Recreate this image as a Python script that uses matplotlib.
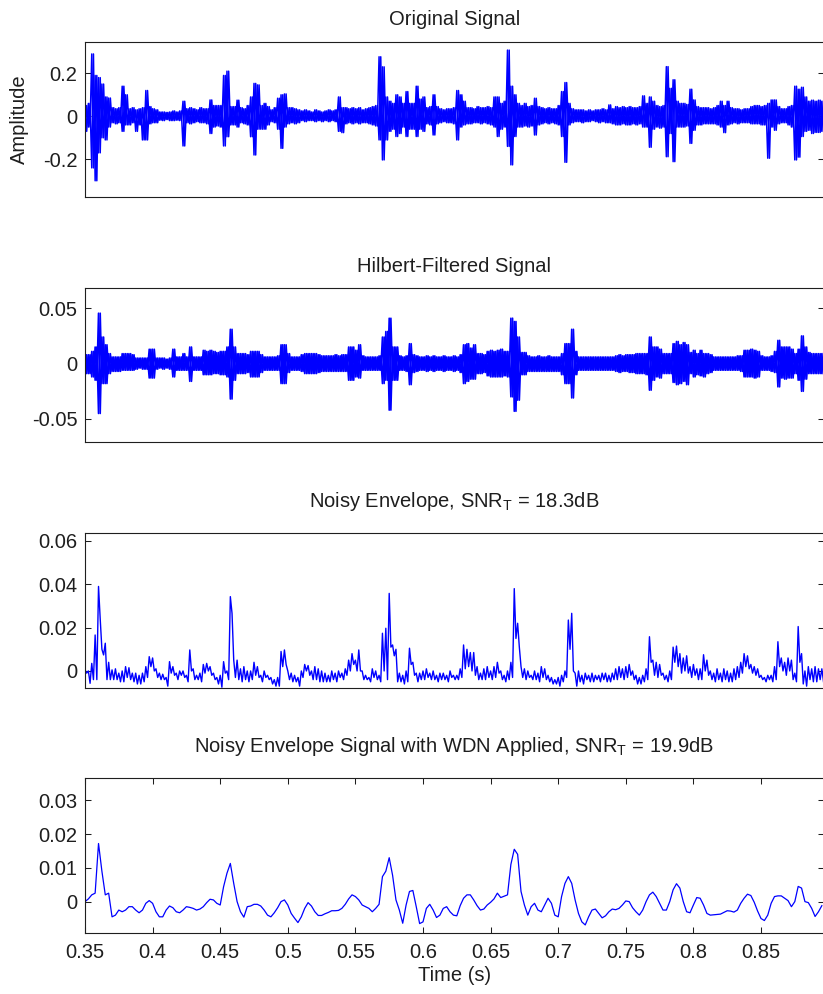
import numpy as np
import matplotlib
matplotlib.use("Agg")
import matplotlib.pyplot as plt

# time grid of the traces
t_start = 0.35
dt = 0.0025

# original signal: positive / negative peak in each time step
orig_hi = [
    0.05, 0.06, 0.29, 0.19, 0.18, 0.15, 0.09, 0.085, 0.04, 0.035,
    0.04, 0.14, 0.10, 0.035, 0.04, 0.03, 0.035, 0.04, 0.12, 0.045,
    0.035, 0.03, 0.02, 0.02, 0.018, 0.02, 0.025, 0.02, 0.025, 0.07,
    0.035, 0.04, 0.035, 0.03, 0.04, 0.035, 0.035, 0.076, 0.05, 0.05,
    0.05, 0.19, 0.21, 0.045, 0.045, 0.075, 0.04, 0.035, 0.05, 0.09,
    0.153, 0.146, 0.05, 0.06, 0.045, 0.03, 0.04, 0.084, 0.10, 0.104,
    0.04, 0.04, 0.035, 0.03, 0.025, 0.03, 0.025, 0.02, 0.03, 0.025,
    0.02, 0.025, 0.03, 0.025, 0.03, 0.09, 0.04, 0.04, 0.035, 0.04,
    0.035, 0.04, 0.03, 0.035, 0.04, 0.045, 0.05, 0.277, 0.23, 0.09,
    0.07, 0.06, 0.10, 0.09, 0.06, 0.115, 0.06, 0.06, 0.14, 0.08,
    0.09, 0.04, 0.045, 0.10, 0.045, 0.035, 0.03, 0.035, 0.035, 0.04,
    0.12, 0.10, 0.07, 0.04, 0.04, 0.035, 0.045, 0.04, 0.04, 0.045,
    0.04, 0.09, 0.09, 0.06, 0.07, 0.308, 0.14, 0.10, 0.06, 0.05,
    0.06, 0.045, 0.05, 0.084, 0.045, 0.04, 0.035, 0.04, 0.035, 0.035,
    0.05, 0.115, 0.157, 0.06, 0.035, 0.03, 0.03, 0.03, 0.025, 0.03,
    0.025, 0.03, 0.03, 0.035, 0.03, 0.053, 0.035, 0.045, 0.04, 0.045,
    0.04, 0.045, 0.04, 0.04, 0.045, 0.095, 0.06, 0.09, 0.07, 0.05,
    0.045, 0.05, 0.231, 0.13, 0.17, 0.07, 0.06, 0.06, 0.055, 0.126,
    0.076, 0.045, 0.04, 0.04, 0.04, 0.035, 0.04, 0.05, 0.07, 0.05,
    0.07, 0.04, 0.035, 0.035, 0.03, 0.035, 0.035, 0.045, 0.05, 0.05,
    0.045, 0.05, 0.06, 0.076, 0.076, 0.045, 0.035, 0.035, 0.045, 0.05,
    0.14, 0.126, 0.135, 0.09, 0.07, 0.075, 0.07, 0.075, 0.07,
]
orig_lo = [
    -0.07, -0.05, -0.24, -0.30, -0.17, -0.10, -0.11, -0.05, -0.03, -0.035,
    -0.03, -0.07, -0.04, -0.04, -0.03, -0.07, -0.04, -0.11, -0.11, -0.035,
    -0.03, -0.03, -0.018, -0.02, -0.015, -0.02, -0.02, -0.018, -0.02, -0.138,
    -0.03, -0.035, -0.03, -0.025, -0.03, -0.03, -0.035, -0.08, -0.05, -0.045,
    -0.05, -0.138, -0.095, -0.04, -0.04, -0.05, -0.03, -0.035, -0.04, -0.095,
    -0.18, -0.06, -0.06, -0.06, -0.04, -0.025, -0.03, -0.06, -0.149, -0.05,
    -0.035, -0.03, -0.035, -0.03, -0.02, -0.025, -0.02, -0.02, -0.025, -0.02,
    -0.025, -0.02, -0.025, -0.02, -0.025, -0.07, -0.076, -0.035, -0.03, -0.035,
    -0.03, -0.035, -0.03, -0.03, -0.035, -0.04, -0.045, -0.11, -0.203, -0.11,
    -0.07, -0.06, -0.094, -0.08, -0.05, -0.094, -0.06, -0.06, -0.094, -0.06,
    -0.07, -0.035, -0.04, -0.087, -0.035, -0.03, -0.025, -0.03, -0.03, -0.035,
    -0.11, -0.05, -0.04, -0.035, -0.035, -0.03, -0.03, -0.035, -0.03, -0.035,
    -0.04, -0.05, -0.094, -0.06, -0.05, -0.14, -0.226, -0.094, -0.05, -0.05,
    -0.045, -0.05, -0.045, -0.087, -0.04, -0.035, -0.03, -0.035, -0.03, -0.035,
    -0.04, -0.094, -0.214, -0.04, -0.03, -0.025, -0.025, -0.03, -0.025, -0.025,
    -0.02, -0.025, -0.03, -0.025, -0.03, -0.03, -0.035, -0.04, -0.04, -0.035,
    -0.04, -0.04, -0.035, -0.04, -0.035, -0.05, -0.05, -0.144, -0.06, -0.05,
    -0.055, -0.05, -0.188, -0.08, -0.211, -0.05, -0.05, -0.05, -0.045, -0.126,
    -0.065, -0.04, -0.04, -0.035, -0.035, -0.035, -0.035, -0.04, -0.05, -0.076,
    -0.04, -0.035, -0.03, -0.035, -0.03, -0.03, -0.03, -0.035, -0.035, -0.035,
    -0.04, -0.04, -0.195, -0.05, -0.065, -0.035, -0.03, -0.03, -0.04, -0.05,
    -0.203, -0.19, -0.094, -0.07, -0.065, -0.08, -0.075, -0.075, -0.07,
]

# hilbert-filtered signal
hilb_hi = [
    0.008, 0.008, 0.011, 0.015, 0.0455, 0.024, 0.017, 0.009, 0.006, 0.006,
    0.006, 0.009, 0.009, 0.009, 0.008, 0.005, 0.005, 0.005, 0.005, 0.013,
    0.013, 0.005, 0.005, 0.005, 0.004, 0.005, 0.013, 0.006, 0.006, 0.009,
    0.006, 0.015, 0.006, 0.006, 0.006, 0.012, 0.011, 0.012, 0.011, 0.010,
    0.011, 0.011, 0.015, 0.031, 0.015, 0.009, 0.009, 0.009, 0.008, 0.011,
    0.011, 0.011, 0.008, 0.006, 0.006, 0.006, 0.006, 0.007, 0.017, 0.017,
    0.009, 0.006, 0.006, 0.006, 0.008, 0.009, 0.009, 0.009, 0.009, 0.008,
    0.007, 0.007, 0.007, 0.007, 0.008, 0.007, 0.008, 0.008, 0.015, 0.015,
    0.012, 0.017, 0.007, 0.006, 0.006, 0.006, 0.006, 0.007, 0.024, 0.029,
    0.041, 0.015, 0.015, 0.007, 0.006, 0.007, 0.018, 0.008, 0.007, 0.006,
    0.006, 0.007, 0.006, 0.007, 0.006, 0.006, 0.007, 0.006, 0.006, 0.007,
    0.006, 0.008, 0.017, 0.018, 0.014, 0.017, 0.009, 0.009, 0.008, 0.011,
    0.012, 0.011, 0.012, 0.013, 0.011, 0.011, 0.041, 0.038, 0.024, 0.010,
    0.010, 0.007, 0.006, 0.006, 0.007, 0.006, 0.006, 0.007, 0.006, 0.006,
    0.006, 0.009, 0.018, 0.018, 0.031, 0.011, 0.006, 0.006, 0.006, 0.006,
    0.006, 0.006, 0.006, 0.006, 0.006, 0.006, 0.006, 0.007, 0.008, 0.007,
    0.008, 0.008, 0.008, 0.009, 0.009, 0.009, 0.009, 0.024, 0.015, 0.015,
    0.013, 0.009, 0.009, 0.009, 0.018, 0.020, 0.017, 0.019, 0.017, 0.010,
    0.012, 0.009, 0.012, 0.009, 0.009, 0.008, 0.006, 0.006, 0.006, 0.006,
    0.006, 0.006, 0.006, 0.007, 0.007, 0.012, 0.012, 0.013, 0.012, 0.011,
    0.007, 0.006, 0.006, 0.007, 0.011, 0.021, 0.015, 0.015, 0.015, 0.013,
    0.009, 0.013, 0.025, 0.015, 0.010, 0.009, 0.009, 0.009, 0.009,
]
hilb_lo = [
    -0.009, -0.009, -0.012, -0.015, -0.045, -0.018, -0.018, -0.009, -0.007, -0.007,
    -0.007, -0.006, -0.006, -0.006, -0.006, -0.005, -0.004, -0.005, -0.005, -0.013,
    -0.013, -0.005, -0.004, -0.005, -0.004, -0.005, -0.012, -0.006, -0.006, -0.006,
    -0.006, -0.016, -0.006, -0.006, -0.006, -0.010, -0.010, -0.010, -0.009, -0.009,
    -0.010, -0.010, -0.012, -0.032, -0.015, -0.009, -0.009, -0.009, -0.008, -0.012,
    -0.012, -0.012, -0.008, -0.006, -0.006, -0.006, -0.006, -0.006, -0.018, -0.018,
    -0.008, -0.006, -0.006, -0.006, -0.007, -0.009, -0.009, -0.009, -0.009, -0.008,
    -0.007, -0.007, -0.007, -0.007, -0.007, -0.007, -0.007, -0.007, -0.015, -0.015,
    -0.012, -0.013, -0.006, -0.006, -0.006, -0.006, -0.006, -0.006, -0.018, -0.015,
    -0.042, -0.015, -0.015, -0.006, -0.006, -0.007, -0.019, -0.008, -0.007, -0.006,
    -0.006, -0.007, -0.006, -0.007, -0.006, -0.006, -0.007, -0.006, -0.006, -0.007,
    -0.006, -0.008, -0.018, -0.016, -0.014, -0.014, -0.009, -0.009, -0.008, -0.011,
    -0.012, -0.012, -0.012, -0.012, -0.011, -0.012, -0.030, -0.043, -0.033, -0.010,
    -0.010, -0.007, -0.007, -0.007, -0.007, -0.007, -0.007, -0.007, -0.007, -0.007,
    -0.007, -0.010, -0.018, -0.018, -0.031, -0.010, -0.006, -0.006, -0.006, -0.006,
    -0.006, -0.006, -0.006, -0.006, -0.006, -0.006, -0.006, -0.007, -0.008, -0.007,
    -0.007, -0.008, -0.008, -0.009, -0.009, -0.009, -0.010, -0.024, -0.015, -0.012,
    -0.013, -0.009, -0.009, -0.009, -0.017, -0.019, -0.018, -0.016, -0.019, -0.009,
    -0.012, -0.010, -0.011, -0.012, -0.009, -0.008, -0.006, -0.006, -0.006, -0.006,
    -0.006, -0.006, -0.006, -0.006, -0.007, -0.012, -0.012, -0.012, -0.013, -0.012,
    -0.006, -0.006, -0.006, -0.007, -0.008, -0.021, -0.013, -0.014, -0.013, -0.013,
    -0.009, -0.015, -0.025, -0.014, -0.009, -0.009, -0.009, -0.009, -0.009,
]

# noisy envelope
env_hi = [
    0.0005, 0.000, 0.0035, 0.0166, 0.039, 0.010, 0.0128, 0.004, 0.0005, 0.001,
    -0.001, 0.000, 0.002, 0.0015, -0.001, -0.001, -0.002, -0.001, 0.002, 0.0066,
    0.006, 0.001, -0.001, -0.0015, -0.003, 0.0043, 0.002, -0.001, 0.000, 0.000,
    -0.002, 0.0097, 0.001, -0.002, -0.001, 0.003, 0.0035, 0.002, -0.001, -0.003,
    -0.002, 0.0043, 0.000, 0.0343, 0.005, 0.005, 0.001, 0.002, 0.000, 0.000,
    0.004, 0.002, -0.002, 0.000, -0.002, -0.003, -0.004, -0.003, 0.009, 0.0097,
    0.000, -0.001, -0.002, -0.003, 0.000, 0.003, 0.0025, 0.000, 0.002, 0.001,
    0.000, -0.001, -0.002, 0.000, -0.001, 0.000, -0.001, 0.001, 0.005, 0.008,
    0.005, 0.0097, 0.000, -0.002, -0.003, 0.001, 0.000, -0.002, 0.0174, 0.0197,
    0.0358, 0.012, 0.010, -0.001, -0.002, 0.000, 0.0105, 0.004, -0.001, -0.001,
    0.000, 0.001, -0.001, 0.000, -0.002, -0.001, -0.001, -0.002, 0.000, -0.002,
    -0.002, 0.001, 0.012, 0.010, 0.0085, 0.0085, 0.002, -0.001, 0.001, 0.002,
    0.000, 0.002, 0.004, 0.000, -0.002, 0.000, 0.004, 0.038, 0.022, 0.002,
    0.001, 0.000, -0.002, 0.000, -0.001, 0.002, 0.001, -0.002, -0.003, -0.004,
    -0.003, -0.002, 0.000, 0.0235, 0.0266, -0.001, 0.000, -0.002, -0.001, -0.002,
    -0.001, -0.002, -0.002, -0.001, -0.001, -0.002, -0.001, 0.001, 0.002, 0.001,
    0.002, 0.003, 0.000, -0.002, -0.003, -0.002, 0.001, 0.0158, 0.005, 0.004,
    0.003, -0.001, -0.002, 0.000, 0.011, 0.0115, 0.008, 0.006, 0.007, 0.002,
    0.003, 0.001, 0.001, 0.0075, 0.005, 0.000, -0.001, 0.001, -0.001, 0.001,
    0.000, -0.001, 0.001, 0.002, 0.004, 0.008, 0.007, 0.003, 0.002, 0.001,
    -0.002, -0.003, -0.002, -0.002, 0.002, 0.0135, 0.006, 0.004, 0.006, 0.005,
    -0.001, 0.0205, 0.008, 0.000, 0.002, 0.001, 0.002, 0.001, 0.001,
]
env_lo = [
    -0.001, -0.0057, -0.004, -0.004, 0.024, 0.0074, -0.004, -0.004, -0.004, -0.004,
    -0.005, -0.005, -0.003, -0.004, -0.005, -0.006, -0.006, -0.005, -0.003, 0.002,
    0.000, -0.003, -0.004, -0.004, -0.007, -0.001, -0.002, -0.004, -0.002, -0.003,
    -0.005, 0.000, -0.004, -0.004, -0.005, -0.001, 0.000, -0.002, -0.004, -0.006,
    -0.0075, -0.001, -0.004, 0.0266, -0.003, -0.004, -0.005, -0.004, -0.005, -0.004,
    -0.002, -0.003, -0.005, -0.003, -0.004, -0.006, -0.007, -0.007, 0.002, 0.003,
    -0.004, -0.005, -0.005, -0.007, -0.003, 0.000, -0.002, -0.004, -0.004, -0.005,
    -0.005, -0.005, -0.005, -0.004, -0.005, -0.003, -0.004, -0.002, 0.000, 0.003,
    0.000, 0.000, -0.004, -0.004, -0.005, -0.003, -0.004, -0.005, 0.000, -0.004,
    0.011, 0.007, -0.005, -0.005, -0.006, -0.005, 0.003, -0.002, -0.005, -0.004,
    -0.004, -0.003, -0.004, -0.004, -0.005, -0.004, -0.004, -0.005, -0.003, -0.004,
    -0.004, -0.003, 0.001, 0.002, 0.000, -0.002, -0.004, -0.004, -0.004, -0.003,
    -0.004, -0.003, -0.001, -0.004, -0.005, -0.004, -0.003, 0.015, 0.011, -0.003,
    -0.004, -0.003, -0.004, -0.004, -0.005, -0.003, -0.004, -0.005, -0.006, -0.006,
    -0.007, -0.005, -0.003, 0.010, 0.000, -0.007, -0.005, -0.006, -0.004, -0.005,
    -0.005, -0.004, -0.005, -0.004, -0.005, -0.005, -0.004, -0.004, -0.003, -0.004,
    -0.003, -0.002, -0.004, -0.006, -0.006, -0.005, -0.004, 0.004, -0.002, -0.003,
    -0.002, -0.004, -0.005, -0.004, 0.004, 0.002, -0.001, 0.000, -0.001, -0.003,
    -0.002, -0.004, -0.004, 0.000, -0.002, -0.004, -0.005, -0.004, -0.005, -0.004,
    -0.005, -0.005, -0.004, -0.003, -0.001, 0.002, 0.001, -0.001, -0.002, -0.003,
    -0.004, -0.005, -0.004, -0.005, -0.004, 0.002, 0.000, -0.002, 0.000, -0.004,
    -0.005, 0.004, -0.006, -0.007, -0.004, -0.005, -0.005, -0.004, -0.005,
]

# envelope after WDN (smooth curve)
wdn = [
    0.0, 0.0008, 0.002, 0.0025, 0.0172, 0.009, 0.002, 0.0025, -0.0045, -0.004,
    -0.0025, -0.003, -0.0025, -0.0015, -0.0015, -0.0025, -0.0033, -0.0025, -0.0005, 0.0003,
    -0.0005, -0.003, -0.0045, -0.0045, -0.0025, -0.0013, -0.0018, -0.003, -0.0033, -0.0025,
    -0.0015, -0.0017, -0.002, -0.0025, -0.0022, -0.0015, -0.0003, 0.0007, 0.0005, -0.0005,
    -0.001, 0.0044, 0.0084, 0.0113, 0.0054, 0.0, -0.003, -0.0046, -0.0015, -0.0013,
    -0.0008, -0.0008, -0.0013, -0.0025, -0.004, -0.0045, -0.0033, -0.0018, 0.0, 0.0005,
    -0.001, -0.0035, -0.0049, -0.0062, -0.0045, -0.002, -0.0003, -0.0013, -0.003, -0.0041,
    -0.0041, -0.0036, -0.0032, -0.0027, -0.0027, -0.0026, -0.002, -0.0008, 0.0008, 0.002,
    0.0015, 0.0005, -0.001, -0.0015, -0.002, -0.003, -0.002, -0.0008, 0.0074, 0.009,
    0.013, 0.0078, 0.0005, -0.0025, -0.0064, -0.001, 0.003, 0.0033, -0.0015, -0.0065,
    -0.006, -0.002, -0.0008, -0.0025, -0.0047, -0.004, -0.002, -0.0015, -0.003, -0.004,
    -0.0042, -0.0012, 0.001, 0.002, 0.002, 0.0005, -0.0012, -0.0025, -0.0022, -0.001,
    -0.0002, 0.0008, 0.0025, 0.0012, 0.0016, 0.002, 0.011, 0.0155, 0.014, 0.003,
    -0.001, -0.004, -0.0015, -0.0005, -0.0025, -0.003, -0.001, 0.001, -0.0005, -0.004,
    -0.0045, 0.0015, 0.0054, 0.0074, 0.0054, 0.0005, -0.0035, -0.006, -0.0069, -0.0045,
    -0.0025, -0.0022, -0.0035, -0.0048, -0.0042, -0.003, -0.0022, -0.0024, -0.002, -0.001,
    0.0002, 0.0, -0.0018, -0.003, -0.004, -0.0025, 0.0, 0.002, 0.0028, 0.0015,
    -0.0005, -0.0025, -0.0025, 0.0, 0.0035, 0.0053, 0.004, 0.0, -0.003, -0.0033,
    -0.001, 0.0012, 0.001, -0.001, -0.0035, -0.004, -0.0039, -0.0038, -0.0037, -0.0032,
    -0.0027, -0.0028, -0.0031, -0.0025, -0.0005, 0.001, 0.0022, 0.0018, -0.0002, -0.0028,
    -0.005, -0.0056, -0.004, -0.0005, 0.0015, 0.0017, 0.0017, 0.001, 0.0003, -0.0015,
    0.0, 0.0045, 0.004, 0.0, -0.0003, -0.002, -0.0044, -0.003, -0.0012,
]

titles = [
    "Original Signal",
    "Hilbert-Filtered Signal",
    r"Noisy Envelope, SNR$_\mathrm{T}$ = 18.3dB",
    r"Noisy Envelope Signal with WDN Applied, SNR$_\mathrm{T}$ = 19.9dB",
]
ylims = [(-0.374, 0.347), (-0.0705, 0.068), (-0.008, 0.0638), (-0.0092, 0.0365)]
yticks = [[-0.2, 0, 0.2], [-0.05, 0, 0.05], [0, 0.02, 0.04, 0.06], [0, 0.01, 0.02, 0.03]]
ytick_labels = [["-0.2", "0", "0.2"], ["-0.05", "0", "0.05"],
                ["0", "0.02", "0.04", "0.06"], ["0", "0.01", "0.02", "0.03"]]
xticks = [0.35, 0.4, 0.45, 0.5, 0.55, 0.6, 0.65, 0.7, 0.75, 0.8, 0.85]
xtick_labels = ["0.35", "0.4", "0.45", "0.5", "0.55", "0.6", "0.65", "0.7", "0.75", "0.8", "0.85"]

for arr in (orig_hi, orig_lo, hilb_hi, hilb_lo, env_hi, env_lo, wdn):
    assert len(arr) == len(wdn), len(arr)


def zigzag(hi, lo, flip=False):
    # peaks drawn alternately, like the dense raw trace
    t = t_start + dt * np.arange(len(hi))
    tt = np.empty(2 * len(hi))
    yy = np.empty(2 * len(hi))
    tt[0::2] = t
    tt[1::2] = t + dt / 2
    if flip:
        hi, lo = lo, hi
    yy[0::2] = hi
    yy[1::2] = lo
    return tt, yy


plt.rcParams['font.family'] = ['Liberation Sans', 'DejaVu Sans']
plt.rcParams['mathtext.fontset'] = 'custom'
plt.rcParams['mathtext.rm'] = 'Liberation Sans'
plt.rcParams['mathtext.it'] = 'Liberation Sans:italic'
plt.rcParams['axes.unicode_minus'] = False

W, H = 823, 994
fig = plt.figure(figsize=(W / 100, H / 100), dpi=100)

left_px, right_px = 85, 823.5
boxes = [(41.7, 196.7), (288.3, 441.7), (532.7, 688.3), (778.3, 932.7)]
title_pads = [12, 12, 18.7, 18.7]
px_per_unit = 1352.0
xlim = (0.35, 0.35 + (right_px - left_px) / px_per_unit)

blue = '#0000ff'
dark = '#1e1e1e'
fs = 14.5

axes = []
for i, (top, bot) in enumerate(boxes):
    ax = fig.add_axes([left_px / W, 1 - bot / H, (right_px - left_px) / W, (bot - top) / H])
    axes.append(ax)
    for sp in ax.spines.values():
        sp.set_linewidth(0.8)
        sp.set_color(dark)
    ax.set_xlim(*xlim)
    ax.set_ylim(*ylims[i])
    ax.set_yticks(yticks[i])
    ax.set_yticklabels(ytick_labels[i])
    ax.tick_params(direction='in', length=4, width=0.75, colors=dark,
                   labelsize=fs, right=True, top=True)
    ax.tick_params(axis='y', pad=5.5)
    ax.tick_params(axis='x', pad=7.5)
    ax.set_title(titles[i], fontsize=fs, color=dark, pad=title_pads[i])

ax1, ax2, ax3, ax4 = axes

# raw traces: draw both phases so the dense band reads as solid
for flip in (False, True):
    tt, yy = zigzag(orig_hi, orig_lo, flip)
    ax1.plot(tt, yy, color=blue, lw=1.1)
    tt, yy = zigzag(hilb_hi, hilb_lo, flip)
    ax2.plot(tt, yy, color=blue, lw=1.2)
tt, yy = zigzag(env_hi, env_lo)
ax3.plot(tt, yy, color=blue, lw=1.0)
t4 = t_start + dt * np.arange(len(wdn))
ax4.plot(t4, wdn, color=blue, lw=0.9)

for ax in (ax1, ax2, ax3):
    ax.set_xticks([])

ax4.set_xticks(xticks)
ax4.set_xticklabels(xtick_labels)

ax1.set_ylabel("Amplitude", fontsize=fs, color=dark)
ax1.yaxis.set_label_coords((28.5 - left_px) / (right_px - left_px), 0.5)
ax4.set_xlabel("Time (s)", fontsize=fs, color=dark)
ax4.xaxis.set_label_coords(0.5, (932.7 - 966.0) / (932.7 - 778.3))

fig.savefig("out.png", dpi=100)
